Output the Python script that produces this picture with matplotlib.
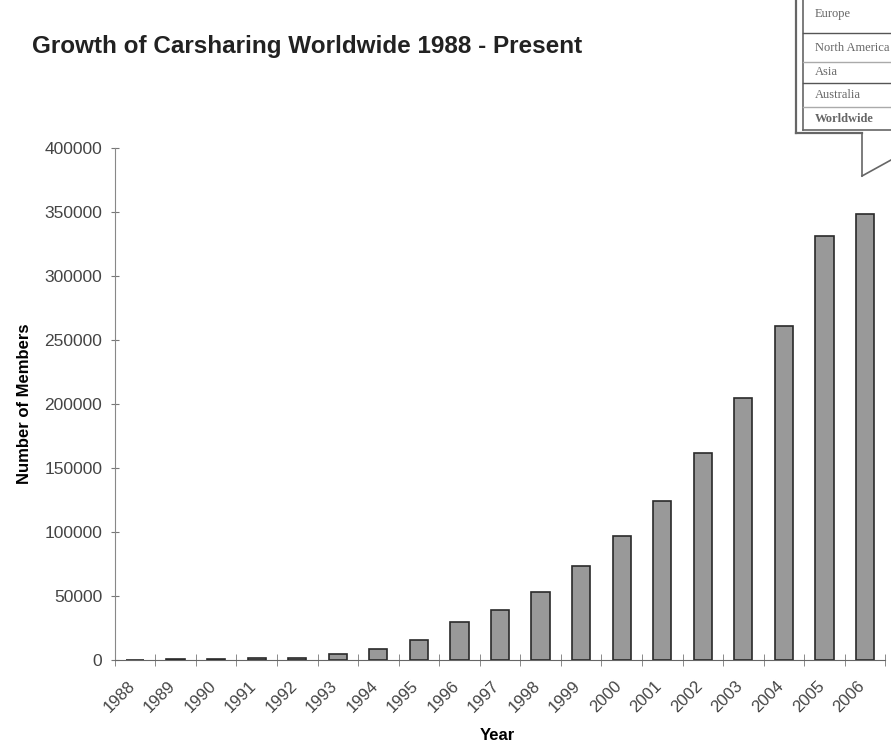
import matplotlib.pyplot as plt
import matplotlib.transforms as mtransforms
import numpy as np
from matplotlib.lines import Line2D

years = [str(y) for y in range(1988, 2007)]
members = [0, 600, 1000, 1500, 1200, 4700, 8400, 15600, 29700, 39000,
           52900, 73700, 96900, 124400, 162000, 204400, 261200, 331200, 348600]
yticks = [0, 50000, 100000, 150000, 200000, 250000, 300000, 350000, 400000]
callout_rows = ['Europe', 'North America', 'Asia', 'Australia', 'Worldwide']

plt.rcParams['font.family'] = ['Liberation Sans', 'DejaVu Sans']

fig = plt.figure(figsize=(8.91, 7.46), dpi=100)
ax = fig.add_axes([0.1288, 0.1153, 0.8648, 0.6863])

x = np.arange(len(years))
ax.bar(x, members, width=0.45, color='#999999', edgecolor='#2a2a2a', linewidth=1.2, zorder=3)

ax.set_xlim(-0.5, len(years) - 0.5)
ax.set_ylim(0, 400000)
ax.set_yticks(yticks)
ax.set_yticklabels([str(v) for v in yticks], color='#444444', fontsize=12.5)

ax.set_xticks(x)
ax.set_xticklabels(years, rotation=45, ha='right', rotation_mode='anchor', color='#444444', fontsize=12)
ax.set_xticks(np.arange(len(years) + 1) - 0.5, minor=True)
ax.tick_params(axis='x', which='major', length=0, pad=13)
ax.tick_params(axis='x', which='minor', length=8, direction='inout', color='#777777')
ax.tick_params(axis='y', length=6, direction='inout', color='#777777', pad=6)

# nudge the year labels a bit to the left
shift = mtransforms.ScaledTranslation(-8 / 100, 0, fig.dpi_scale_trans)
for lbl in ax.get_xticklabels():
    lbl.set_transform(lbl.get_transform() + shift)

for side in ['top', 'right']:
    ax.spines[side].set_visible(False)
ax.spines['left'].set_color('#888888')
ax.spines['bottom'].set_color('#666666')

ax.set_xlabel('Year', fontsize=12, fontweight='bold')
ax.set_ylabel('Number of Members', fontsize=12, fontweight='bold')
ax.xaxis.set_label_coords(0.496, -0.132)
ax.yaxis.set_label_coords(-0.108, 0.5)

fig.text(32 / 891, 1 - 46 / 746, 'Growth of Carsharing Worldwide 1988 - Present',
         fontsize=17.5, fontweight='bold', color='#222222', va='center', ha='left')

# callout box in the top right corner (pixel coords -> figure fraction)
def px(xp, yp):
    return xp / 891, 1 - yp / 746

def seg(x0, y0, x1, y1, color='#666666', lw=1.2):
    a, b = px(x0, y0)
    c, d = px(x1, y1)
    fig.add_artist(Line2D([a, c], [b, d], color=color, linewidth=lw, transform=fig.transFigure))

seg(796, -2, 796, 133, lw=1.6)
seg(796, 133, 862, 133, lw=1.6)
seg(862, 133, 862, 176)
seg(862, 176, 891, 160)
seg(803, -2, 803, 130)
seg(803, 130, 891, 130)
for yl, c in [(33, '#555555'), (62, '#aaaaaa'), (83, '#555555'), (107, '#aaaaaa')]:
    seg(803, yl, 891, yl, color=c, lw=1.0)

row_y = [14, 48, 72, 95, 119]
for name, yp in zip(callout_rows, row_y):
    fx, fy = px(815, yp)
    fig.text(fx, fy, name, family='Liberation Serif', fontsize=9, color='#666666',
             fontweight='bold' if name == 'Worldwide' else 'normal', va='center', ha='left')

fig.savefig('out.png', dpi=100)
